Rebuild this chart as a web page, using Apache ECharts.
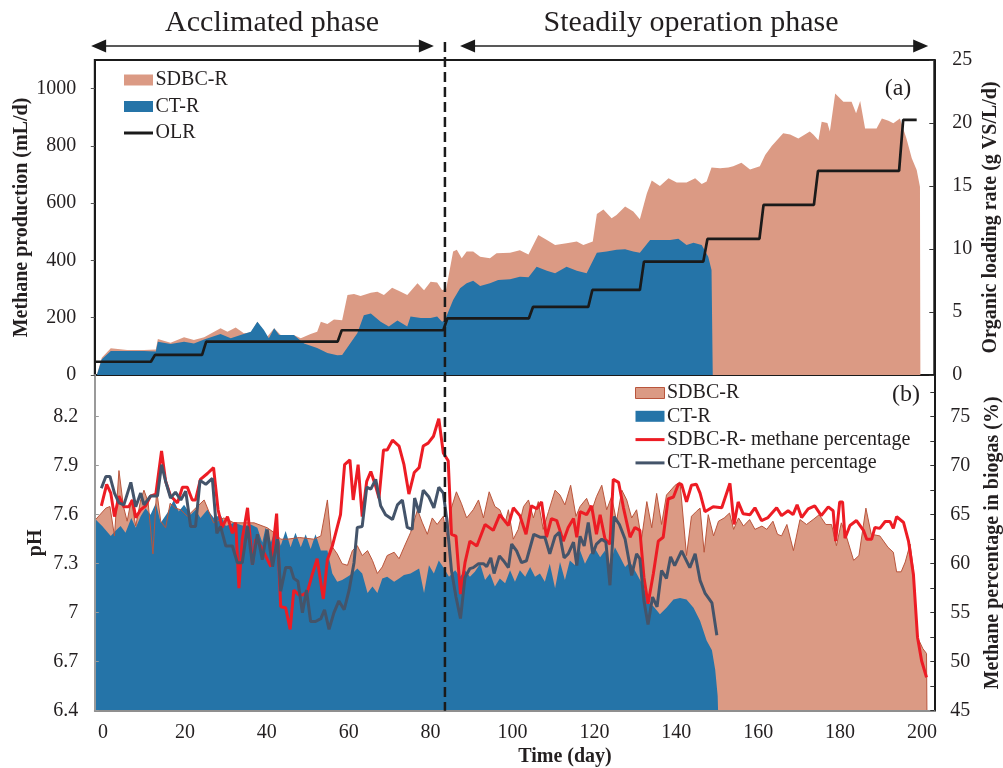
<!DOCTYPE html>
<html><head><meta charset="utf-8">
<script src="https://cdn.jsdelivr.net/npm/echarts@6/dist/echarts.min.js"></script>
<style>html,body{margin:0;padding:0;background:#fff}#c{width:1003px;height:768px}</style>
</head><body><div id="c"></div>
<script>
// ---------- DATA (day, value) ----------
const xTickValues = [0,20,40,60,80,100,120,140,160,180,200];
const productionTicks = [0,200,400,600,800,1000];
const olrTicks = [0,5,10,15,20,25];
const phTicks = [6.4,6.7,7,7.3,7.6,7.9,8.2];
const methaneTicks = [45,50,55,60,65,70,75];
const methaneMinorTicks = [45,47.5,50,52.5,55,57.5,60,62.5,65,67.5,70,72.5,75,77.5];
const phaseBoundaryDay = 83.5;

// (a) methane production, mL/d
const sdbcProduction = [[-1.5,0],[-0.3,60],[1.9,93],[5.9,87],[10,87],[12.9,89],[13.4,126],[16.5,113],[19.8,132],[22.2,122],[24.7,132],[28.7,163],[30.4,151],[32.4,166],[34.4,146],[36.1,148],[37.7,186],[40.1,134],[41.8,163],[43.4,140],[46.6,140],[48.3,128],[50.7,143],[52.3,151],[53.2,186],[54.8,178],[56.4,194],[58.4,191],[59.7,279],[61.3,283],[62.9,276],[65.4,287],[67,291],[68.6,279],[70.6,305],[72.7,291],[74.3,279],[76.8,320],[78.4,296],[80,326],[81.6,323],[82.8,297],[83.8,300],[85.5,431],[86.4,437],[87.6,408],[88.8,431],[90.4,431],[92.1,413],[94.5,408],[96.1,425],[99.4,427],[101.8,436],[103.9,421],[106.3,489],[108.4,471],[110.4,454],[113.2,460],[115.7,466],[117.3,454],[119.6,466],[120.6,562],[122.2,578],[124.2,547],[125.4,559],[127.5,588],[129.5,571],[131.1,544],[132.8,634],[134,679],[136,660],[138.1,687],[140.1,672],[142.5,672],[144.6,687],[146.2,667],[147.4,676],[148.6,725],[150.7,722],[152.7,725],[153.9,729],[155.9,741],[158,718],[160.4,729],[161.7,768],[163.3,800],[166.1,844],[167.8,840],[169.8,826],[172.6,850],[173.5,839],[174.7,820],[175.5,884],[176.9,880],[177.5,850],[178.8,983],[180.8,954],[182.8,954],[183.9,914],[184.9,957],[186.1,861],[188.9,861],[190.2,896],[191.8,888],[193,879],[194.6,896],[196.2,826],[197.5,757],[198.7,716],[199.5,657],[199.6,0]];
const ctProduction = [[-1.5,0],[-0.3,55],[1.9,84],[5.9,84],[10,84],[12.9,82],[13.4,116],[16.5,108],[19.8,116],[22.2,110],[24.7,124],[28.7,143],[31.2,128],[33.6,140],[36.1,151],[37.7,186],[39.3,157],[40.5,128],[41.8,163],[43,140],[46.6,140],[49.1,110],[52.3,94],[54.8,77],[57.2,69],[58.4,70],[60.1,105],[62.1,146],[63.7,209],[65.4,215],[67.8,186],[69.8,169],[71.9,190],[74.3,169],[75.1,204],[77.6,199],[80,199],[81.6,204],[82.8,186],[83.5,192],[85.5,262],[87.2,303],[88.8,320],[90.4,329],[92.1,311],[94.5,320],[96.5,332],[99.4,334],[101.8,343],[103.9,341],[105.9,378],[108.4,364],[110.4,355],[113.2,378],[115.7,364],[118.1,355],[120.6,427],[123,431],[125.4,437],[127.5,439],[129.5,431],[131.1,427],[133.6,471],[136,471],[138.5,471],[140.5,476],[142.5,454],[144.2,462],[146.2,454],[147.8,413],[148.6,367],[148.9,0]];
// OLR, g VS/L/d : levels and the days where the level changes
const olrLevels = [1.05,1.6,2.65,3.55,4.5,5.4,6.75,9,10.8,13.5,16.2,20.25];
const olrChangeDays = [12.2,24.7,57.8,83.6,104.5,119,131.6,147.1,160.8,174.1,194.9];
const olrStartDay = -1.8, olrEndDay = 198.7;

// (b) pH
const sdbcPh = [[-1.8,7.57],[0.7,7.64],[1.7,7.65],[2.8,7.47],[3.9,7.87],[5,7.65],[5.9,7.56],[6.9,7.69],[8,7.53],[9.2,7.69],[10,7.75],[11,7.68],[12.2,7.36],[13.1,7.75],[14.1,7.56],[15.3,7.52],[16.4,7.67],[17.7,7.64],[19,7.63],[20.6,7.59],[22.2,7.63],[24.7,7.69],[27,7.55],[29.5,7.58],[32,7.55],[36.9,7.55],[40.1,7.52],[41.8,7.49],[43.4,7.45],[45,7.45],[48,7.46],[51.5,7.45],[53.2,7.47],[54.8,7.69],[55.8,7.41],[57.2,7.36],[58.4,7.3],[59.7,7.29],[60.9,7.38],[62.1,7.41],[63.3,7.35],[64.6,7.38],[65.8,7.32],[67,7.24],[68.2,7.28],[69.4,7.35],[71.1,7.37],[72.3,7.33],[73.5,7.4],[75.1,7.49],[76.8,7.63],[78,7.55],[79.2,7.48],[80.4,7.58],[81.6,7.54],[83.1,7.59],[84.1,7.45],[84.7,7.61],[86.3,7.74],[87.5,7.67],[88.8,7.58],[90.4,7.63],[91.7,7.69],[92.9,7.58],[94.3,7.74],[95.7,7.65],[96.9,7.63],[98.2,7.55],[99,7.63],[100.2,7.45],[101.4,7.51],[102.7,7.65],[103.9,7.69],[105.1,7.58],[106.3,7.68],[107.5,7.51],[108.8,7.62],[110.4,7.75],[111.6,7.72],[112.8,7.66],[114.2,7.78],[115.5,7.59],[116.5,7.65],[118.1,7.7],[119.3,7.62],[120.5,7.71],[121.8,7.78],[123,7.63],[124.2,7.71],[125.4,7.56],[126.7,7.75],[127.9,7.69],[129.1,7.58],[130.3,7.63],[131.5,7.45],[132.8,7.68],[134,7.52],[135.2,7.73],[136.4,7.54],[137.6,7.72],[139.7,7.78],[140.9,7.8],[142.5,7.35],[143.7,7.59],[144.9,7.62],[145.8,7.64],[146.8,7.37],[147.8,7.6],[149.1,7.47],[150.3,7.56],[151.7,7.58],[153,7.61],[154,7.51],[155.2,7.58],[156.4,7.53],[157.9,7.57],[159.2,7.51],[160.9,7.53],[162.1,7.51],[163.6,7.56],[164.7,7.48],[165.7,7.47],[167,7.54],[168.6,7.38],[170.2,7.57],[171.8,7.54],[173.4,7.57],[174.9,7.6],[176.5,7.54],[177.9,7.54],[179.1,7.41],[180.3,7.55],[181.5,7.47],[183.3,7.32],[184.6,7.35],[186.3,7.64],[187.6,7.48],[189.7,7.47],[191.7,7.4],[193,7.37],[193.8,7.25],[194.9,7.25],[195.9,7.31],[197.1,7.42],[197.9,7.26],[198.9,6.85],[200.2,6.78],[201.1,6.75],[201.2,6.4]];
const ctPh = [[-1.8,7.57],[-0.2,7.53],[1.9,7.47],[3,7.5],[4.3,7.53],[5.5,7.49],[6.9,7.58],[8,7.52],[9.2,7.59],[10.4,7.64],[11.6,7.6],[12.9,7.67],[14.1,7.55],[15.7,7.61],[17.3,7.69],[18.5,7.62],[19.8,7.66],[21.4,7.6],[22.6,7.63],[23.8,7.58],[25.5,7.63],[27.1,7.58],[28.7,7.6],[30,7.53],[32,7.55],[34.4,7.53],[36.1,7.54],[37.7,7.52],[38.9,7.43],[39.7,7.52],[41,7.43],[42.2,7.52],[43.4,7.41],[44.6,7.5],[45.8,7.4],[47,7.49],[48.3,7.4],[49.5,7.48],[50.7,7.39],[51.9,7.48],[53.2,7.38],[54.8,7.38],[56,7.24],[57.2,7.19],[58.4,7.2],[59.7,7.22],[60.9,7.24],[62.1,7.27],[63.3,7.24],[64.6,7.12],[65.8,7.16],[67,7.12],[68.2,7.21],[69.4,7.22],[71.1,7.19],[72.3,7.21],[73.5,7.23],[75.1,7.24],[77.2,7.27],[78.4,7.12],[79.6,7.29],[80.8,7.24],[82,7.32],[83.3,7.27],[84.5,7.22],[86,7.26],[87.2,7.22],[88.4,7.26],[89.6,7.22],[90.8,7.25],[92.1,7.3],[93.3,7.2],[94.5,7.24],[95.7,7.16],[96.9,7.21],[98.2,7.18],[99.4,7.26],[100.6,7.19],[101.8,7.26],[103.1,7.22],[104.3,7.28],[105.5,7.22],[106.7,7.24],[107.9,7.19],[109.1,7.3],[110.4,7.15],[111.6,7.31],[112.8,7.2],[114,7.32],[115.3,7.29],[116.5,7.38],[117.7,7.3],[118.9,7.36],[120.2,7.39],[121.4,7.34],[122.6,7.38],[123.8,7.29],[125,7.4],[126.3,7.34],[127.5,7.28],[128.7,7.31],[130.3,7.24],[132,7.16],[133.2,7.06],[134.4,7.04],[136,6.99],[137.6,7.03],[139.3,7.08],[140.9,7.09],[142.5,7.08],[144.2,7.03],[145.8,6.95],[147.4,6.83],[148.7,6.77],[149.5,6.65],[150.1,6.49],[150.2,6.4]];
// (b) methane percentage in biogas, %
const sdbcMethane = [[-0.4,65.9],[0.9,68.1],[1.9,67.2],[2.8,64.8],[3.9,66.9],[5.1,65.8],[6.3,65.8],[7.2,66.5],[8,64.7],[9.2,65.5],[10.4,65.9],[11.6,66.9],[12.9,67.1],[14.3,71.5],[15.3,68.4],[16.5,66.9],[18.2,66.2],[19.4,67.8],[20.6,67.8],[21.8,66.5],[22.6,66.5],[23.8,68.6],[25.5,69.2],[27,69.8],[28.1,65.5],[29.1,63.7],[30.4,64.8],[31.6,63.1],[32.4,64.2],[33.2,57.5],[34,62.5],[35.3,65.7],[36.5,59.9],[37.3,62.5],[38.5,61.8],[39.7,60.8],[41,59.7],[42.4,65.1],[43.4,55.6],[44.6,55.5],[45.7,53.3],[46.6,57.3],[47.9,56.8],[48.7,56.8],[49.9,57.1],[51.1,58.9],[52.3,60.5],[53.8,56.4],[54.8,60.4],[56,61.8],[58,65],[59,70.1],[60.3,70.6],[61.1,66.5],[62.3,70.1],[63.3,64.8],[64.4,68.4],[65.4,69.4],[66.6,67.9],[67.4,66.7],[68.5,71.6],[69.4,71.6],[70.7,72.6],[72.3,72],[73.5,70.1],[74.7,67.1],[76,69.3],[77.2,69.8],[78.2,72],[79.4,72.3],[80.7,73],[82,74.8],[83.1,71.3],[84.3,70.5],[85.1,63],[86.2,62.8],[87.3,56.9],[88.4,60.1],[89.6,62.3],[91.3,61.8],[93.3,64],[95.3,63.4],[96.9,65],[99,63.9],[100.2,65.7],[101.8,64.9],[103.3,63],[104.6,65.9],[105.9,65.6],[107.1,66.3],[108.3,62.7],[109.5,64.6],[110.8,64.4],[112.4,62.3],[113.6,63.7],[114.9,64.6],[115.7,62.7],[116.5,65.3],[118.1,65],[119.3,65.9],[120.5,63],[121.4,65],[122.6,62.5],[123.8,62],[124.6,68.6],[125.9,68.3],[127.1,65.7],[128.7,62.7],[129.9,63.7],[131.1,63.4],[132.1,58.6],[133.1,55.9],[134.4,59],[135.6,62.3],[136.8,62.7],[138,66.6],[139.3,66.8],[140.5,68.1],[141.3,68.1],[142.5,66.3],[143.7,68],[144.9,68.1],[145.8,67.2],[147,65.3],[149,65.8],[151.1,65.7],[153.1,68.2],[154.1,64],[155.1,66.3],[156.3,65.1],[158,65],[159.2,65.7],[160.8,64.4],[162.4,64.7],[164.5,65.7],[165.7,64.9],[167.3,65.4],[168.5,65],[169.5,66],[170.6,64.7],[172.2,65.6],[173.8,65.9],[175.4,64.9],[177.1,65.8],[178.3,65.4],[178.9,62.3],[179.9,66.3],[180.6,66.3],[181.2,62.6],[182.4,63.9],[184,64.4],[185.7,63.4],[186.5,62.5],[187.7,62.5],[188.5,63.7],[189.7,63.6],[191,64.3],[192.2,64.3],[193,63.6],[193.8,64.8],[195.5,64.2],[196.7,62.3],[197.9,58.9],[198.9,52.5],[199.9,50.1],[201.1,48.4]];
const ctMethane = [[-0.4,67.7],[0.7,68.9],[1.7,68.9],[2.8,67.2],[3.9,66.2],[5.1,66],[6.8,68.3],[8,65.8],[9.2,67.2],[10,66],[11.6,66.9],[13.3,66.9],[14.3,70.1],[15.3,68.4],[16.5,66.7],[17.7,67.3],[19,66.5],[20.2,67.4],[21.4,63.8],[22.6,63.8],[23.7,68.5],[25.1,68.1],[26.7,68.7],[27.8,63.1],[28.7,63.8],[30,61.8],[31.6,61.8],[32.8,60.1],[34,60.1],[35.3,63.8],[36.5,59.9],[37.7,63],[38.9,60.4],[40.1,63.5],[41.4,59.7],[42.6,62.5],[43.4,57.2],[44.6,59.6],[45.8,59.6],[46.6,58.5],[47.6,58.2],[48.7,55],[49.7,57.3],[50.7,54.1],[51.9,54.1],[53.2,54.4],[54.1,55.3],[55.2,53.3],[56.4,55],[57.6,56.2],[58.9,55.3],[60.1,57.3],[61.3,60.1],[62.1,63.7],[63.3,63.8],[64.4,67.8],[65.4,67.6],[66.6,68.6],[67.8,65.9],[69,65],[70.7,64.5],[71.9,66],[73.1,66.5],[74.3,63.7],[75.5,63.5],[76.1,66.7],[77.2,65.2],[78.2,67.5],[79.6,66.8],[80.8,65.7],[82,67.8],[83.1,67.2],[83.9,64.7],[85.1,59.3],[86.2,56.6],[87.3,54.4],[88.4,58.6],[89.6,59.5],[90.4,59.6],[91.7,60],[92.9,60],[93.7,59.7],[94.7,60.6],[95.5,59],[96.8,60.8],[97.8,60.3],[99,59.6],[99.8,62],[101,61.3],[102.2,60.1],[103.4,60.3],[105.2,63],[106.7,62.7],[107.9,62.7],[109.1,61],[110.4,62.8],[111.4,63.2],[112.6,60.6],[113.6,61],[114.9,62.2],[115.7,59.8],[116.5,62.8],[117.5,61.8],[118.5,64.2],[119.6,61],[120.5,62],[121.8,62.5],[122.8,62.2],[123.8,57.8],[124.8,64.8],[126.1,64],[127.5,62.5],[129.1,58.8],[130.3,61],[131.1,60.5],[132.1,56.2],[133.1,53.8],[134.2,56.6],[135.3,55.6],[136.4,59.3],[137.6,58.5],[138.6,60.7],[139.6,59.8],[141.3,61.3],[143.3,59.6],[144.6,61],[145.8,58.3],[147,57],[148.7,56],[149.9,52.7]];

// ---------- STYLE ----------
const FONT = 'Liberation Serif';
const TXT = '#231f20';
const SALMON = '#db9a84';
const BORDER = '#b9553c';
const BLUE = '#2574a8';
const RED = '#ed1c24';
const GREY = '#44546a';
const BLACK = '#1a1a1a';
const LINE_ICON = 'path://M0,0H29V3H0Z';

// OLR step line built from levels and change days
const olrLine = [[olrStartDay, olrLevels[0]]];
olrChangeDays.forEach((d, i) => { olrLine.push([d - 0.5, olrLevels[i]]); olrLine.push([d + 0.5, olrLevels[i + 1]]); });
olrLine.push([olrEndDay, olrLevels[olrLevels.length - 1]]);

const chart = echarts.init(document.getElementById('c'), null, {renderer: 'canvas'});
const plain = v => String(v);
const lbl = (extra) => Object.assign({fontFamily: FONT, fontSize: 20, color: TXT, formatter: plain}, extra);
const legendText = {fontFamily: FONT, fontSize: 20, color: TXT, lineHeight: 20, padding: [0, 0, 0, -2.5]};

const option = {
  animation: false,
  backgroundColor: '#fff',
  textStyle: {fontFamily: FONT},
  grid: [
    {left: 94.8, top: 60, width: 839.5, height: 315, show: true, borderColor: BLACK, borderWidth: 2, backgroundColor: 'transparent'},
    {left: 94.8, top: 375, width: 839.5, height: 335.7}
  ],
  xAxis: [
    {gridIndex: 0, type: 'value', min: -2, max: 203, axisLine: {show: false}, axisTick: {show: false}, axisLabel: {show: false}, splitLine: {show: false}},
    {gridIndex: 1, type: 'value', min: -2, max: 203, z: 5,
      axisLine: {show: true, onZero: false, lineStyle: {color: '#8f8f8f', width: 2}},
      axisTick: {show: false},
      axisLabel: lbl({customValues: xTickValues, margin: 12}),
      splitLine: {show: false}}
  ],
  yAxis: [
    {gridIndex: 0, type: 'value', min: 0, max: 1100, position: 'left', z: 5,
      axisLine: {show: true, onZero: false, lineStyle: {color: BLACK, width: 2}},
      axisTick: {show: true, inside: false, length: 4, customValues: productionTicks, lineStyle: {color: '#555'}},
      axisLabel: lbl({customValues: productionTicks, margin: 18.5}),
      splitLine: {show: false}},
    {gridIndex: 0, type: 'value', min: 0, max: 25, position: 'right', z: 5,
      axisLine: {show: true, onZero: false, lineStyle: {color: BLACK, width: 2}},
      axisTick: {show: true, inside: true, length: 5, customValues: olrTicks, lineStyle: {color: '#333'}},
      axisLabel: lbl({customValues: olrTicks, margin: 18}),
      splitLine: {show: false}},
    {gridIndex: 1, type: 'value', min: 6.4, max: 8.455, position: 'left', z: 5,
      axisLine: {show: true, onZero: false, lineStyle: {color: '#9a9a9a', width: 2}},
      axisTick: {show: true, inside: true, length: 4, customValues: phTicks, lineStyle: {color: '#9a9a9a'}},
      axisLabel: lbl({customValues: phTicks, margin: 16.5}),
      splitLine: {show: false}},
    {gridIndex: 1, type: 'value', min: 45, max: 79.25, position: 'right', z: 5,
      axisLine: {show: true, onZero: false, lineStyle: {color: BLACK, width: 2}},
      axisTick: {show: true, inside: true, length: 4, customValues: methaneMinorTicks, lineStyle: {color: '#333'}},
      axisLabel: lbl({customValues: methaneTicks, margin: 16}),
      splitLine: {show: false}}
  ],
  legend: [
    {left: 124, top: 70, orient: 'vertical', padding: 0, itemGap: 6.5, itemWidth: 29, itemHeight: 11, selectedMode: false,
      textStyle: legendText,
      data: [
        {name: 'SDBC-R', icon: 'rect', itemStyle: {color: SALMON, borderWidth: 0}},
        {name: 'CT-R', icon: 'rect', itemStyle: {color: BLUE, borderWidth: 0}},
        {name: 'OLR', icon: LINE_ICON, itemStyle: {color: BLACK, borderWidth: 0}}
      ]},
    {left: 635, top: 383, orient: 'vertical', padding: 0, itemGap: 3.3, itemWidth: 29, itemHeight: 11, selectedMode: false,
      textStyle: legendText,
      data: [
        {name: 'SDBC-R', icon: 'rect', itemStyle: {color: SALMON, borderColor: BORDER, borderWidth: 1}},
        {name: 'CT-R', icon: 'rect', itemStyle: {color: BLUE, borderWidth: 0}},
        {name: 'SDBC-R- methane percentage', icon: LINE_ICON, itemStyle: {color: RED, borderWidth: 0}},
        {name: 'CT-R-methane percentage', icon: LINE_ICON, itemStyle: {color: GREY, borderWidth: 0}}
      ]}
  ],
  series: [
    {type: 'line', name: 'SDBC-R', xAxisIndex: 0, yAxisIndex: 0, data: sdbcProduction, symbol: 'none', silent: true,
      itemStyle: {color: SALMON}, lineStyle: {width: 0, color: SALMON}, areaStyle: {color: SALMON, opacity: 1, origin: 'start'}},
    {type: 'line', name: 'CT-R', xAxisIndex: 0, yAxisIndex: 0, data: ctProduction, symbol: 'none', silent: true,
      itemStyle: {color: BLUE}, lineStyle: {width: 0, color: BLUE}, areaStyle: {color: BLUE, opacity: 1, origin: 'start'}},
    {type: 'line', name: 'OLR', xAxisIndex: 0, yAxisIndex: 1, data: olrLine, symbol: 'none', silent: true,
      itemStyle: {color: BLACK}, lineStyle: {width: 2.7, color: BLACK}},
    {type: 'line', name: 'SDBC-R', xAxisIndex: 1, yAxisIndex: 2, data: sdbcPh, symbol: 'none', silent: true,
      itemStyle: {color: SALMON}, lineStyle: {width: 1, color: BORDER}, areaStyle: {color: SALMON, opacity: 1, origin: 'start'}},
    {type: 'line', name: 'CT-R', xAxisIndex: 1, yAxisIndex: 2, data: ctPh, symbol: 'none', silent: true,
      itemStyle: {color: BLUE}, lineStyle: {width: 0, color: BLUE}, areaStyle: {color: BLUE, opacity: 1, origin: 'start'}},
    {type: 'line', name: 'SDBC-R- methane percentage', xAxisIndex: 1, yAxisIndex: 3, data: sdbcMethane, symbol: 'none', silent: true,
      itemStyle: {color: RED}, lineStyle: {width: 3, color: RED}},
    {type: 'line', name: 'CT-R-methane percentage', xAxisIndex: 1, yAxisIndex: 3, data: ctMethane, symbol: 'none', silent: true,
      itemStyle: {color: GREY}, lineStyle: {width: 3, color: GREY}}
  ]
};
chart.setOption(option);

// ---------- annotations positioned through the axes ----------
const px = d => chart.convertToPixel({xAxisIndex: 1}, d);
const topY = chart.convertToPixel({yAxisIndex: 0}, 1100);
const botY = chart.convertToPixel({yAxisIndex: 2}, 6.4);
const midTop = chart.convertToPixel({yAxisIndex: 0}, 550);
const midBot = chart.convertToPixel({yAxisIndex: 2}, (6.4 + 8.455) / 2);

function txt(text, x, y, size, bold, rot) {
  return {type: 'text', x: x, y: y, rotation: rot || 0, z: 100,
    style: {text: text, fill: TXT, font: (bold ? 'bold ' : '') + size + 'px "' + FONT + '"',
      textAlign: 'center', textVerticalAlign: 'middle', align: 'center', verticalAlign: 'middle'}};
}
function arrow(x1, x2, y) {
  const h = 15, w = 6.5;
  return [
    {type: 'line', z: 100, shape: {x1: x1 + h - 2, y1: y, x2: x2 - h + 2, y2: y}, style: {stroke: '#595959', lineWidth: 2}},
    {type: 'polygon', z: 100, shape: {points: [[x1, y], [x1 + h, y - w], [x1 + h, y + w]]}, style: {fill: BLACK}},
    {type: 'polygon', z: 100, shape: {points: [[x2, y], [x2 - h, y - w], [x2 - h, y + w]]}, style: {fill: BLACK}}
  ];
}
const arrowY = topY - 14;
const gfx = [].concat(
  arrow(px(-2.9), px(80.8), arrowY),
  arrow(px(87.2), px(201.5), arrowY),
  [
    txt('Acclimated phase', px(41.3), topY - 37, 30, false),
    txt('Steadily operation phase', px(143.6), topY - 37, 30, false),
    {type: 'line', z: 100, shape: {x1: px(phaseBoundaryDay), y1: topY - 18, x2: px(phaseBoundaryDay), y2: botY},
      style: {stroke: BLACK, lineWidth: 2.5, lineDash: [10, 5]}},
    txt('Methane production (mL/d)', 22, midTop, 20, true, Math.PI / 2),
    txt('Organic loading rate (g VS/L/d)', 991, midTop, 20, true, Math.PI / 2),
    txt('pH', 36, midBot, 20, true, Math.PI / 2),
    txt('Methane percentage in biogas (%)', 992.5, midBot, 20, true, Math.PI / 2),
    txt('Time (day)', 565, 757, 20, true),
    txt('(a)', 898, 89, 24, false),
    txt('(b)', 906, 395, 24, false)
  ]
);
chart.setOption({graphic: {elements: gfx}});
</script></body></html>
